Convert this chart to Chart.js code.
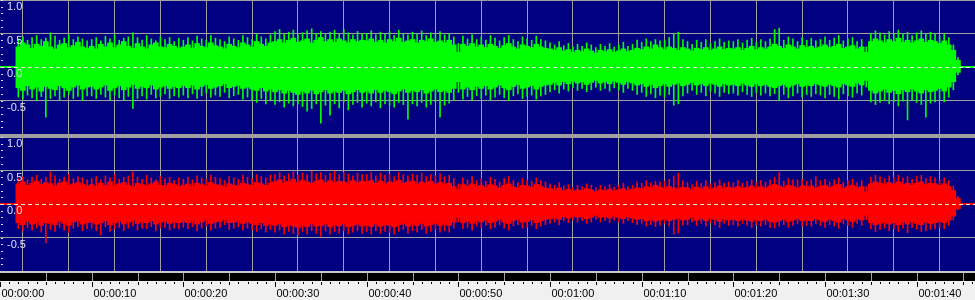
<!DOCTYPE html>
<html>
<head>
<meta charset="utf-8">
<title>Waveform</title>
<script src="https://cdn.jsdelivr.net/npm/chart.js@4.4.1/dist/chart.umd.min.js"></script>
<style>
  html, body { margin: 0; padding: 0; background: #f0f0f0; }
  #wrap { position: relative; width: 975px; height: 300px; overflow: hidden; background: #f0f0f0; }
  .box { position: absolute; left: 0; width: 975px; }
  #topBox { top: 0; height: 134px; }
  #sep { position: absolute; left: 0; top: 134px; width: 975px; height: 3px; background: #a0a0a0; }
  #botBox { top: 137px; height: 134px; }
  #rulerBox { top: 271px; height: 29px; }
</style>
</head>
<body>
<div id="wrap">
  <div class="box" id="topBox"><canvas id="topChart"></canvas></div>
  <div id="sep"></div>
  <div class="box" id="botBox"><canvas id="botChart"></canvas></div>
  <div class="box" id="rulerBox"><canvas id="rulerChart"></canvas></div>
</div>
<script>
// Time axis (seconds shown across the window)
const secondsVisible = 106.36;
const gridSeconds = [5, 10, 15, 20, 25, 30, 35, 40, 45, 50, 55, 60, 65, 70, 75, 80, 85, 90, 95, 100, 105];
const labelSeconds = [0, 10, 20, 30, 40, 50, 60, 70, 80, 90, 100];
const ampTicks = [1, 0.5, 0, -0.5, -1];

// Envelope bins: every 0.5 s starting at 2.0 s (206 bins)
const binStart = 2.0;
const binStep = 0.5;

// Channel 1 (green) - dense body top / bottom
const greenHi = [
  .30,.36,.33,.28,.34, .31,.38,.30,.27,.33, .35,.29,.32,.37,.30, .28,
  .31,.27,.34,.30,.36, .29,.33,.38,.31,.28, .35,.30,.27,.33,.36, .30,.29,.34,.31,.28,
  .30,.33,.28,.35,.31, .29,.36,.32,.30,.27, .34,.31,.29,.36,.33, .30,.38,.34,.31,.36,
  .38,.41,.36,.40,.43, .37,.39,.42,.36,.40, .44,.38,.41,.37,.42, .39,.36,.41,.38,.40,
  .39,.42,.37,.40,.36, .41,.38,.43,.37,.39, .41,.36,.40,.38,.42, .37,.39,.36,.40,.33,
  .22,.34,.31,.35,.30, .33,.29,.34,.31,.28, .32,.35,.30,.27,.33, .31,.29,.34,.30,.28,
  .27,.25,.29,.24,.26, .22,.25,.23,.27,.24, .21,.25,.23,.26,.22, .24,.27,.23,.25,.28,
  .26,.30,.27,.33,.29, .26,.30,.28,.25,.29, .27,.24,.28,.26,.29, .25,.27,.30,.26,.28,
  .27,.29,.25,.28,.31, .26,.29,.27,.30,.34, .31,.28,.33,.30,.27, .32,.29,.31,.28,.30,
  .33,.29,.31,.34,.28, .30,.32,.27,.30,.22, .38,.42,.39,.36,.41, .38,.43,.37,.40,.36,
  .39,.42,.37,.40,.38, .35,.39,.33,.25,.10
];
const greenLo = [
  -.31,-.35,-.28,-.33,-.30, -.36,-.29,-.32,-.34,-.28, -.31,-.35,-.30,-.27,-.33, -.30,
  -.29,-.33,-.30,-.27,-.35, -.31,-.28,-.34,-.30,-.26, -.32,-.29,-.31,-.27,-.33, -.30,-.28,-.32,-.29,-.31,
  -.28,-.31,-.27,-.33,-.29, -.26,-.32,-.30,-.28,-.25, -.31,-.29,-.27,-.32,-.30, -.33,-.35,-.31,-.36,-.33,
  -.37,-.34,-.39,-.35,-.38, -.41,-.36,-.39,-.35,-.40, -.37,-.34,-.39,-.36,-.38, -.35,-.40,-.37,-.34,-.38,
  -.36,-.39,-.34,-.38,-.35, -.37,-.40,-.36,-.33,-.38, -.35,-.37,-.34,-.39,-.36, -.33,-.37,-.35,-.38,-.32,
  -.22,-.33,-.30,-.34,-.29, -.32,-.28,-.33,-.30,-.27, -.31,-.34,-.29,-.26,-.32, -.30,-.28,-.33,-.29,-.27,
  -.26,-.23,-.27,-.22,-.25, -.21,-.24,-.22,-.26,-.23, -.20,-.24,-.22,-.25,-.21, -.23,-.26,-.22,-.24,-.27,
  -.25,-.29,-.26,-.31,-.28, -.25,-.29,-.26,-.24,-.28, -.26,-.23,-.27,-.25,-.28, -.24,-.26,-.29,-.25,-.27,
  -.26,-.28,-.24,-.27,-.29, -.25,-.28,-.26,-.29,-.31, -.28,-.26,-.30,-.27,-.25, -.29,-.27,-.28,-.25,-.27,
  -.29,-.26,-.28,-.30,-.25, -.27,-.29,-.24,-.27,-.20, -.35,-.39,-.36,-.33,-.38, -.35,-.40,-.34,-.37,-.33,
  -.36,-.39,-.34,-.37,-.35, -.32,-.36,-.30,-.22,-.08
];
// Channel 1 (green) - peak spikes
const greenPeakHi = [
  .42,.45,.40,.44,.47, .41,.43,.51,.46,.40, .43,.48,.41,.45,.42, .39,
  .41,.44,.39,.46,.42, .48,.40,.43,.45,.51, .44,.40,.47,.42,.39, .45,.41,.44,.38,.43,
  .40,.44,.39,.46,.42, .40,.47,.43,.41,.38, .45,.42,.40,.47,.44, .41,.49,.45,.42,.48,
  .53,.56,.49,.52,.55, .48,.51,.54,.57,.50, .53,.49,.52,.55,.50, .56,.51,.48,.53,.50,
  .50,.54,.48,.52,.49, .53,.47,.55,.50,.48, .52,.49,.54,.47,.51, .49,.53,.48,.50,.45,
  .35,.46,.42,.48,.41, .45,.40,.47,.43,.39, .44,.47,.41,.38,.45, .42,.40,.46,.41,.39,
  .36,.33,.38,.32,.35, .30,.34,.31,.36,.33, .29,.34,.31,.35,.30, .33,.37,.31,.34,.40,
  .37,.42,.38,.41,.39, .40,.44,.50,.52,.41, .38,.34,.40,.37,.41, .35,.38,.42,.37,.39,
  .38,.41,.36,.40,.43, .37,.41,.38,.42,.56, .58,.40,.45,.42,.38, .44,.40,.43,.39,.41,
  .45,.40,.43,.47,.39, .42,.44,.38,.41,.30, .50,.54,.51,.48,.53, .50,.55,.49,.52,.47,
  .51,.54,.49,.52,.50, .46,.50,.44,.33,.14
];
const greenPeakLo = [
  -.45,-.48,-.42,-.46,-.50, -.44,-.75,-.47,-.43,-.49, -.45,-.41,-.47,-.44,-.50, -.43,
  -.43,-.47,-.41,-.45,-.49, -.42,-.46,-.50,-.44,-.62, -.47,-.43,-.48,-.41,-.46, -.44,-.40,-.47,-.43,-.45,
  -.42,-.46,-.40,-.47,-.43, -.39,-.45,-.42,-.44,-.38, -.46,-.43,-.41,-.48,-.45, -.50,-.53,-.47,-.55,-.49,
  -.56,-.52,-.60,-.54,-.58, -.55,-.59,-.66,-.62,-.55, -.84,-.57,-.72,-.55,-.61, -.52,-.64,-.56,-.53,-.60,
  -.54,-.58,-.52,-.61,-.55, -.57,-.60,-.53,-.56,-.78, -.55,-.58,-.53,-.60,-.56, -.52,-.75,-.57,-.54,-.50,
  -.38,-.48,-.44,-.50,-.43, -.47,-.42,-.49,-.45,-.41, -.46,-.50,-.43,-.40,-.47, -.44,-.42,-.48,-.43,-.41,
  -.37,-.34,-.39,-.33,-.36, -.31,-.35,-.32,-.37,-.34, -.30,-.35,-.32,-.36,-.31, -.34,-.38,-.32,-.35,-.41,
  -.38,-.44,-.40,-.46,-.42, -.45,-.41,-.57,-.55,-.43, -.39,-.35,-.41,-.38,-.43, -.36,-.39,-.44,-.38,-.40,
  -.39,-.42,-.37,-.41,-.44, -.38,-.42,-.39,-.43,-.40, -.50,-.41,-.46,-.43,-.39, -.45,-.41,-.44,-.40,-.42,
  -.46,-.41,-.44,-.48,-.40, -.43,-.45,-.39,-.42,-.30, -.52,-.56,-.53,-.50,-.55, -.52,-.58,-.51,-.79,-.49,
  -.53,-.56,-.75,-.54,-.52, -.48,-.52,-.45,-.34,-.12
];

// Channel 2 (red) - dense body top / bottom
const redHi = [
  .30,.33,.28,.31,.34, .29,.32,.30,.27,.31, .33,.28,.30,.32,.29, .27,
  .29,.26,.31,.28,.33, .27,.30,.32,.28,.26, .31,.29,.27,.30,.33, .28,.27,.31,.29,.26,
  .28,.30,.26,.31,.29, .27,.32,.29,.28,.25, .30,.28,.27,.31,.29, .28,.32,.30,.28,.31,
  .33,.36,.31,.34,.37, .32,.35,.33,.31,.34, .36,.32,.35,.31,.34, .33,.30,.35,.32,.34,
  .33,.35,.31,.34,.30, .33,.32,.35,.31,.33, .34,.30,.33,.31,.34, .30,.32,.29,.31,.26,
  .22,.29,.27,.30,.26, .28,.25,.29,.27,.24, .28,.30,.26,.24,.28, .27,.25,.29,.26,.24,
  .23,.21,.24,.20,.22, .19,.21,.20,.23,.21, .18,.21,.20,.22,.19, .21,.23,.20,.22,.24,
  .23,.26,.24,.28,.25, .23,.26,.24,.22,.25, .24,.21,.25,.23,.26, .22,.24,.27,.23,.25,
  .24,.26,.23,.25,.27, .24,.26,.24,.27,.29, .27,.25,.28,.26,.24, .27,.25,.27,.24,.26,
  .28,.25,.27,.29,.24, .26,.28,.24,.26,.18, .30,.33,.31,.29,.32, .30,.33,.29,.31,.28,
  .31,.33,.29,.31,.30, .28,.30,.26,.20,.08
];
const redLo = [
  -.28,-.31,-.26,-.30,-.27, -.32,-.28,-.29,-.31,-.26, -.29,-.32,-.27,-.25,-.30, -.28,
  -.27,-.30,-.28,-.25,-.31, -.28,-.26,-.30,-.27,-.24, -.29,-.27,-.28,-.25,-.30, -.27,-.26,-.29,-.27,-.28,
  -.26,-.28,-.25,-.30,-.27, -.24,-.29,-.27,-.26,-.23, -.28,-.27,-.25,-.29,-.27, -.29,-.31,-.28,-.32,-.29,
  -.32,-.30,-.34,-.31,-.33, -.35,-.31,-.34,-.30,-.33, -.32,-.30,-.34,-.31,-.33, -.30,-.34,-.32,-.30,-.33,
  -.31,-.34,-.30,-.33,-.31, -.32,-.34,-.31,-.29,-.33, -.30,-.32,-.29,-.33,-.31, -.29,-.32,-.30,-.32,-.27,
  -.20,-.28,-.26,-.29,-.25, -.27,-.24,-.28,-.26,-.23, -.27,-.29,-.25,-.23,-.27, -.26,-.24,-.28,-.25,-.23,
  -.22,-.20,-.23,-.19,-.21, -.18,-.20,-.19,-.22,-.20, -.17,-.20,-.19,-.21,-.18, -.20,-.22,-.19,-.21,-.23,
  -.22,-.25,-.23,-.26,-.24, -.22,-.25,-.23,-.21,-.24, -.23,-.20,-.24,-.22,-.25, -.21,-.23,-.26,-.22,-.24,
  -.23,-.25,-.22,-.24,-.26, -.23,-.25,-.23,-.26,-.27, -.25,-.23,-.26,-.24,-.22, -.25,-.24,-.25,-.22,-.24,
  -.26,-.23,-.25,-.27,-.22, -.24,-.26,-.22,-.24,-.17, -.28,-.31,-.29,-.27,-.30, -.28,-.31,-.27,-.30,-.26,
  -.29,-.31,-.27,-.29,-.28, -.26,-.28,-.24,-.18,-.07
];
// Channel 2 (red) - peak spikes
const redPeakHi = [
  .38,.41,.36,.40,.43, .37,.40,.48,.42,.37, .40,.44,.38,.41,.39, .36,
  .38,.41,.36,.42,.39, .44,.37,.40,.42,.48, .40,.37,.43,.39,.36, .41,.38,.40,.35,.39,
  .37,.40,.36,.42,.39, .37,.43,.40,.38,.35, .41,.39,.37,.43,.40, .38,.44,.41,.39,.43,
  .44,.47,.42,.45,.48, .43,.46,.44,.49,.45, .47,.43,.46,.49,.44, .47,.45,.42,.46,.44,
  .44,.47,.42,.46,.43, .45,.41,.47,.44,.42, .45,.43,.46,.41,.44, .42,.45,.41,.43,.38,
  .30,.39,.36,.41,.35, .38,.34,.40,.37,.33, .38,.41,.35,.32,.38, .36,.34,.39,.35,.33,
  .30,.28,.32,.27,.29, .25,.28,.26,.30,.28, .24,.28,.26,.29,.25, .28,.31,.26,.28,.33,
  .31,.35,.32,.34,.33, .34,.37,.42,.46,.35, .32,.29,.34,.31,.35, .30,.32,.36,.31,.33,
  .32,.35,.31,.34,.36, .32,.35,.33,.36,.40, .47,.34,.38,.36,.36, .37,.34,.36,.41,.35,
  .37,.33,.36,.39,.32, .35,.37,.32,.35,.26, .40,.43,.41,.38,.42, .40,.43,.39,.41,.37,
  .41,.43,.38,.41,.39, .36,.39,.35,.27,.11
];
const redPeakLo = [
  -.37,-.40,-.35,-.39,-.36, -.42,-.58,-.38,-.41,-.35, -.39,-.43,-.36,-.34,-.40, -.37,
  -.36,-.40,-.46,-.34,-.41, -.37,-.35,-.40,-.36,-.33, -.39,-.36,-.37,-.34,-.40, -.36,-.35,-.39,-.36,-.37,
  -.35,-.37,-.34,-.40,-.36, -.33,-.39,-.36,-.35,-.31, -.38,-.36,-.34,-.39,-.36, -.39,-.41,-.37,-.42,-.38,
  -.42,-.39,-.45,-.41,-.44, -.46,-.41,-.45,-.40,-.44, -.48,-.40,-.45,-.41,-.44, -.40,-.45,-.42,-.40,-.44,
  -.41,-.45,-.40,-.44,-.41, -.42,-.45,-.41,-.38,-.44, -.40,-.42,-.38,-.44,-.41, -.38,-.42,-.40,-.42,-.36,
  -.27,-.37,-.35,-.39,-.33, -.36,-.32,-.37,-.35,-.31, -.36,-.39,-.33,-.31,-.36, -.35,-.32,-.37,-.33,-.31,
  -.29,-.27,-.31,-.25,-.28, -.24,-.27,-.25,-.29,-.27, -.23,-.27,-.25,-.28,-.24, -.27,-.29,-.25,-.28,-.31,
  -.29,-.33,-.31,-.34,-.32, -.29,-.33,-.45,-.43,-.32, -.31,-.27,-.32,-.29,-.33, -.28,-.31,-.35,-.29,-.32,
  -.31,-.33,-.29,-.32,-.35, -.31,-.33,-.31,-.35,-.36, -.33,-.31,-.35,-.32,-.29, -.33,-.32,-.33,-.29,-.32,
  -.35,-.31,-.33,-.36,-.29, -.32,-.35,-.29,-.32,-.23, -.37,-.41,-.38,-.36,-.40, -.37,-.41,-.36,-.43,-.35,
  -.38,-.41,-.40,-.38,-.37, -.35,-.37,-.32,-.24,-.09
];

const binTimes = greenHi.map((_, i) => binStart + i * binStep);

const NAVY = '#000080';
const GRID = '#a0a0a0';
const LABEL = '#e0e0ff';
const FONT = "'Liberation Sans', Arial, sans-serif";

// axes must not add any padding: the plot fills the whole canvas
function noPad(s) {
  s.paddingTop = 0;
  s.paddingBottom = 0;
  s.paddingLeft = 0;
  s.paddingRight = 0;
}

// Navy background + dashed zero line and small amplitude ticks on top
const panelDecor = {
  id: 'panelDecor',
  beforeDraw(chart) {
    const { ctx, width, height } = chart;
    ctx.save();
    ctx.fillStyle = NAVY;
    ctx.fillRect(0, 0, width, height);
    ctx.restore();
  },
  afterDatasetsDraw(chart) {
    const { ctx, chartArea, scales: { y } } = chart;
    const y0 = Math.round(y.getPixelForValue(0)) + 0.5;
    ctx.save();
    ctx.strokeStyle = '#e8e8d8';
    ctx.lineWidth = 1;
    ctx.setLineDash([4, 3]);
    ctx.beginPath();
    ctx.moveTo(chartArea.left, y0);
    ctx.lineTo(chartArea.right, y0);
    ctx.stroke();
    ctx.fillStyle = LABEL;
    for (let k = -10; k <= 10; k++) {
      const py = Math.round(y.getPixelForValue(k / 10));
      ctx.fillRect(1, py, 2, 1);
    }
    ctx.restore();
  }
};

function makePanel(canvasId, color, hi, lo, peakHi, peakLo) {
  const body = binTimes.map((t, i) => ({ x: t, y: [lo[i], hi[i]] }));
  const peaks = binTimes.map((t, i) => ({ x: t, y: [peakLo[i], peakHi[i]] }));

  return new Chart(document.getElementById(canvasId), {
    type: 'bar',
    data: {
      datasets: [
        {
          type: 'line',
          data: [{ x: 0, y: 0 }, { x: secondsVisible, y: 0 }],
          borderColor: color,
          borderWidth: 2,
          pointRadius: 0,
          order: 3
        },
        { data: peaks, backgroundColor: color, barThickness: 1, grouped: false, order: 2 },
        { data: body, backgroundColor: color, barThickness: 5, grouped: false, order: 1 }
      ]
    },
    options: {
      responsive: true,
      maintainAspectRatio: false,
      animation: false,
      layout: { padding: 0, autoPadding: false },
      plugins: { legend: { display: false }, tooltip: { enabled: false } },
      scales: {
        x: {
          type: 'linear',
          min: 0,
          max: secondsVisible,
          offset: false,
          afterBuildTicks: s => { s.ticks = gridSeconds.map(v => ({ value: v })); },
          afterFit: s => { s.height = 0; noPad(s); },
          grid: { color: GRID, lineWidth: 1, drawTicks: false },
          border: { display: false },
          ticks: { display: false }
        },
        y: {
          type: 'linear',
          min: -1,
          max: 1,
          afterBuildTicks: s => { s.ticks = ampTicks.map(v => ({ value: v })); },
          afterFit: s => { s.width = 0; noPad(s); },
          grid: {
            color: c => (c.tick && c.tick.value === 0) ? 'rgba(0,0,0,0)' : GRID,
            drawTicks: false
          },
          border: { display: false },
          ticks: {
            mirror: true,
            padding: 7,
            labelOffset: 7,
            autoSkip: false,
            z: 1,
            color: LABEL,
            font: { family: FONT, size: 11 },
            callback: v => (v === -1 ? '' : v.toFixed(1))
          }
        }
      }
    },
    plugins: [panelDecor]
  });
}

// Bottom time ruler: black band, tick marks and hh:mm:ss labels
function fmtTime(s) {
  const m = Math.floor(s / 60);
  const sec = s % 60;
  return '00:' + String(m).padStart(2, '0') + ':' + String(sec).padStart(2, '0');
}

const rulerDraw = {
  id: 'rulerDraw',
  beforeDraw(chart) {
    const { ctx, width, height, scales: { x } } = chart;
    ctx.save();
    ctx.fillStyle = '#f0f0f0';
    ctx.fillRect(0, 0, width, height);
    ctx.fillStyle = '#c8c8c8';
    ctx.fillRect(0, 0, width, 2);
    ctx.fillStyle = '#000000';
    ctx.fillRect(0, 2, width, 8);

    ctx.fillStyle = GRID;
    gridSeconds.forEach(s => {
      ctx.fillRect(Math.round(x.getPixelForValue(s)), 2, 1, 8);
    });

    ctx.fillStyle = '#000000';
    for (let s = 0; s <= Math.floor(secondsVisible); s++) {
      const len = s % 10 === 0 ? 5 : (s % 5 === 0 ? 3 : 2);
      ctx.fillRect(Math.round(x.getPixelForValue(s)), 11, 1, len);
    }

    ctx.font = '11px ' + FONT;
    ctx.textAlign = 'left';
    ctx.textBaseline = 'alphabetic';
    labelSeconds.forEach(s => {
      ctx.fillText(fmtTime(s), Math.round(x.getPixelForValue(s)) + 1.5, 26);
    });
    ctx.restore();
  }
};

function makeRuler() {
  return new Chart(document.getElementById('rulerChart'), {
    type: 'line',
    data: { datasets: [] },
    options: {
      responsive: true,
      maintainAspectRatio: false,
      animation: false,
      layout: { padding: 0, autoPadding: false },
      plugins: { legend: { display: false }, tooltip: { enabled: false } },
      scales: {
        x: {
          type: 'linear',
          min: 0,
          max: secondsVisible,
          afterFit: s => { s.height = 0; noPad(s); },
          grid: { display: false },
          border: { display: false },
          ticks: { display: false }
        },
        y: { display: false }
      }
    },
    plugins: [rulerDraw]
  });
}

makePanel('topChart', '#00ff00', greenHi, greenLo, greenPeakHi, greenPeakLo);
makePanel('botChart', '#ff0000', redHi, redLo, redPeakHi, redPeakLo);
makeRuler();
</script>
</body>
</html>
